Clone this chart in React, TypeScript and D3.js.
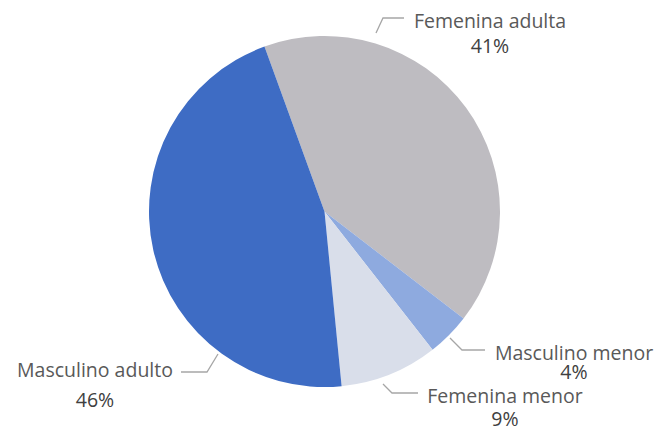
import React, { useEffect, useRef } from 'react';
import * as d3 from 'd3';

// valores (porcentajes)
const categories = ['Femenina adulta', 'Masculino menor', 'Femenina menor', 'Masculino adulto'];
const values = [41, 4, 9, 46];
const percentLabels = ['41%', '4%', '9%', '46%'];
const colors = ['#bebcc1', '#8eaadf', '#d9deea', '#3e6cc4'];

// layout of the data labels (leader line points and text anchor)
const labelLayout = [
  { pts: [[376, 33], [383, 18], [404, 18]], x: 490, y1: 28, y2: 53 },
  { pts: [[450, 338], [462, 350], [485, 350]], x: 574, y1: 360, y2: 379 },
  { pts: [[383, 384], [392, 393], [418, 393]], x: 505, y1: 403, y2: 426 },
  { pts: [[218, 354], [207, 372], [181, 372]], x: 95, y1: 377, y2: 407 },
];

const W = 660;
const H = 430;

export default function App() {
  const ref = useRef<SVGSVGElement>(null);

  useEffect(() => {
    document.body.style.margin = '0';
    const svg = d3.select(ref.current);
    svg.selectAll('*').remove();

    const cx = 324.5, cy = 211.5, r = 175.5;
    const data = categories.map((c, i) => ({ name: c, value: values[i] }));

    const pie = d3.pie<any>()
      .value(d => d.value)
      .sort(null)
      .startAngle(-20 * Math.PI / 180)
      .endAngle(340 * Math.PI / 180);

    const arc = d3.arc<any>().innerRadius(0).outerRadius(r);

    const g = svg.append('g').attr('transform', `translate(${cx},${cy})`);
    g.selectAll('path')
      .data(pie(data))
      .enter().append('path')
      .attr('d', arc)
      .attr('fill', (d, i) => colors[i]);

    const line = d3.line();
    const labels = svg.append('g');
    labelLayout.forEach((l, i) => {
      labels.append('path')
        .attr('d', line(l.pts as [number, number][]))
        .attr('fill', 'none')
        .attr('stroke', '#a6a6a6')
        .attr('stroke-width', 1.3);
      labels.append('text')
        .attr('x', l.x).attr('y', l.y1)
        .attr('text-anchor', 'middle')
        .attr('font-family', 'Open Sans, sans-serif')
        .attr('font-size', 19.5)
        .attr('fill', '#595959')
        .text(categories[i]);
      labels.append('text')
        .attr('x', l.x).attr('y', l.y2)
        .attr('text-anchor', 'middle')
        .attr('font-family', 'Open Sans, sans-serif')
        .attr('font-size', 19.5)
        .attr('fill', '#404040')
        .text(percentLabels[i]);
    });
  }, []);

  return <svg ref={ref} width={W} height={H} style={{ display: 'block', background: '#fff' }} />;
}
